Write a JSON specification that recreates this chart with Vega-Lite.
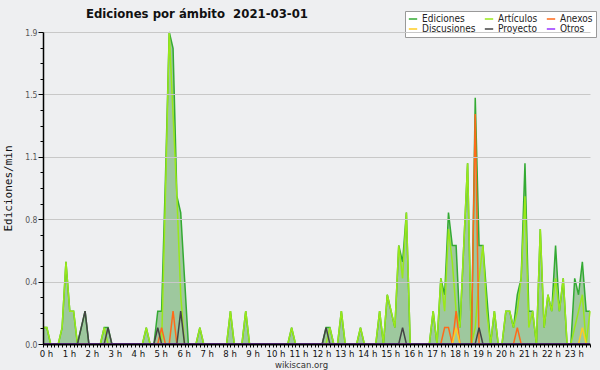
{
"$schema": "https://vega.github.io/schema/vega-lite/v6.json",
"width": 547, "height": 312,
"autosize": {"type": "none"},
"padding": {"left": 43, "top": 32, "right": 10, "bottom": 26},
"background": "#eeeff1",
"config": {"view": {"stroke": null}, "font": "DejaVu Sans Condensed"},
"title": {"text": "Ediciones por ámbito\u00a0 2021-03-01", "anchor": "start", "frame": "group", "dx": 43, "offset": -10, "fontSize": 13, "fontWeight": "bold", "font": "DejaVu Sans Condensed", "color": "#111"},
"data": {"values": [
{"t":0,"Ediciones":0.1,"Artículos":0.1,"Anexos":0,"Discusiones":0,"Proyecto":0,"Otros":0},
{"t":10,"Ediciones":0.1,"Artículos":0.1,"Anexos":0,"Discusiones":0,"Proyecto":0,"Otros":0},
{"t":20,"Ediciones":0,"Artículos":0,"Anexos":0,"Discusiones":0,"Proyecto":0,"Otros":0},
{"t":30,"Ediciones":0,"Artículos":0,"Anexos":0,"Discusiones":0,"Proyecto":0,"Otros":0},
{"t":40,"Ediciones":0,"Artículos":0,"Anexos":0,"Discusiones":0,"Proyecto":0,"Otros":0},
{"t":50,"Ediciones":0.1,"Artículos":0.1,"Anexos":0,"Discusiones":0,"Proyecto":0,"Otros":0},
{"t":60,"Ediciones":0.5,"Artículos":0.5,"Anexos":0,"Discusiones":0,"Proyecto":0,"Otros":0},
{"t":70,"Ediciones":0.2,"Artículos":0.2,"Anexos":0,"Discusiones":0,"Proyecto":0,"Otros":0},
{"t":80,"Ediciones":0.2,"Artículos":0.2,"Anexos":0,"Discusiones":0,"Proyecto":0,"Otros":0},
{"t":90,"Ediciones":0,"Artículos":0,"Anexos":0,"Discusiones":0,"Proyecto":0,"Otros":0},
{"t":100,"Ediciones":0.1,"Artículos":0,"Anexos":0,"Discusiones":0,"Proyecto":0.1,"Otros":0},
{"t":110,"Ediciones":0.2,"Artículos":0,"Anexos":0,"Discusiones":0,"Proyecto":0.2,"Otros":0},
{"t":120,"Ediciones":0,"Artículos":0,"Anexos":0,"Discusiones":0,"Proyecto":0,"Otros":0},
{"t":130,"Ediciones":0,"Artículos":0,"Anexos":0,"Discusiones":0,"Proyecto":0,"Otros":0},
{"t":140,"Ediciones":0,"Artículos":0,"Anexos":0,"Discusiones":0,"Proyecto":0,"Otros":0},
{"t":150,"Ediciones":0,"Artículos":0,"Anexos":0,"Discusiones":0,"Proyecto":0,"Otros":0},
{"t":160,"Ediciones":0.1,"Artículos":0.1,"Anexos":0,"Discusiones":0,"Proyecto":0,"Otros":0},
{"t":170,"Ediciones":0.1,"Artículos":0,"Anexos":0,"Discusiones":0,"Proyecto":0.1,"Otros":0},
{"t":180,"Ediciones":0,"Artículos":0,"Anexos":0,"Discusiones":0,"Proyecto":0,"Otros":0},
{"t":190,"Ediciones":0,"Artículos":0,"Anexos":0,"Discusiones":0,"Proyecto":0,"Otros":0},
{"t":200,"Ediciones":0,"Artículos":0,"Anexos":0,"Discusiones":0,"Proyecto":0,"Otros":0},
{"t":210,"Ediciones":0,"Artículos":0,"Anexos":0,"Discusiones":0,"Proyecto":0,"Otros":0},
{"t":220,"Ediciones":0,"Artículos":0,"Anexos":0,"Discusiones":0,"Proyecto":0,"Otros":0},
{"t":230,"Ediciones":0,"Artículos":0,"Anexos":0,"Discusiones":0,"Proyecto":0,"Otros":0},
{"t":240,"Ediciones":0,"Artículos":0,"Anexos":0,"Discusiones":0,"Proyecto":0,"Otros":0},
{"t":250,"Ediciones":0,"Artículos":0,"Anexos":0,"Discusiones":0,"Proyecto":0,"Otros":0},
{"t":260,"Ediciones":0,"Artículos":0,"Anexos":0,"Discusiones":0,"Proyecto":0,"Otros":0},
{"t":270,"Ediciones":0.1,"Artículos":0.1,"Anexos":0,"Discusiones":0,"Proyecto":0,"Otros":0},
{"t":280,"Ediciones":0,"Artículos":0,"Anexos":0,"Discusiones":0,"Proyecto":0,"Otros":0},
{"t":290,"Ediciones":0,"Artículos":0,"Anexos":0,"Discusiones":0,"Proyecto":0,"Otros":0},
{"t":300,"Ediciones":0.2,"Artículos":0,"Anexos":0,"Discusiones":0,"Proyecto":0.1,"Otros":0},
{"t":310,"Ediciones":0.2,"Artículos":0,"Anexos":0.1,"Discusiones":0,"Proyecto":0,"Otros":0},
{"t":320,"Ediciones":1.0,"Artículos":0.9,"Anexos":0,"Discusiones":0,"Proyecto":0,"Otros":0},
{"t":330,"Ediciones":1.9,"Artículos":1.9,"Anexos":0,"Discusiones":0,"Proyecto":0,"Otros":0},
{"t":340,"Ediciones":1.8,"Artículos":1.4,"Anexos":0.2,"Discusiones":0,"Proyecto":0,"Otros":0},
{"t":350,"Ediciones":0.9,"Artículos":0.9,"Anexos":0,"Discusiones":0,"Proyecto":0,"Otros":0},
{"t":360,"Ediciones":0.8,"Artículos":0.3,"Anexos":0,"Discusiones":0,"Proyecto":0.2,"Otros":0},
{"t":370,"Ediciones":0.4,"Artículos":0,"Anexos":0,"Discusiones":0,"Proyecto":0,"Otros":0},
{"t":380,"Ediciones":0,"Artículos":0,"Anexos":0,"Discusiones":0,"Proyecto":0,"Otros":0},
{"t":390,"Ediciones":0,"Artículos":0,"Anexos":0,"Discusiones":0,"Proyecto":0,"Otros":0},
{"t":400,"Ediciones":0,"Artículos":0,"Anexos":0,"Discusiones":0,"Proyecto":0,"Otros":0},
{"t":410,"Ediciones":0.1,"Artículos":0.1,"Anexos":0,"Discusiones":0,"Proyecto":0,"Otros":0},
{"t":420,"Ediciones":0,"Artículos":0,"Anexos":0,"Discusiones":0,"Proyecto":0,"Otros":0},
{"t":430,"Ediciones":0,"Artículos":0,"Anexos":0,"Discusiones":0,"Proyecto":0,"Otros":0},
{"t":440,"Ediciones":0,"Artículos":0,"Anexos":0,"Discusiones":0,"Proyecto":0,"Otros":0},
{"t":450,"Ediciones":0,"Artículos":0,"Anexos":0,"Discusiones":0,"Proyecto":0,"Otros":0},
{"t":460,"Ediciones":0,"Artículos":0,"Anexos":0,"Discusiones":0,"Proyecto":0,"Otros":0},
{"t":470,"Ediciones":0,"Artículos":0,"Anexos":0,"Discusiones":0,"Proyecto":0,"Otros":0},
{"t":480,"Ediciones":0,"Artículos":0,"Anexos":0,"Discusiones":0,"Proyecto":0,"Otros":0},
{"t":490,"Ediciones":0.2,"Artículos":0.2,"Anexos":0,"Discusiones":0,"Proyecto":0,"Otros":0},
{"t":500,"Ediciones":0,"Artículos":0,"Anexos":0,"Discusiones":0,"Proyecto":0,"Otros":0},
{"t":510,"Ediciones":0,"Artículos":0,"Anexos":0,"Discusiones":0,"Proyecto":0,"Otros":0},
{"t":520,"Ediciones":0,"Artículos":0,"Anexos":0,"Discusiones":0,"Proyecto":0,"Otros":0},
{"t":530,"Ediciones":0.2,"Artículos":0.2,"Anexos":0,"Discusiones":0,"Proyecto":0,"Otros":0},
{"t":540,"Ediciones":0,"Artículos":0,"Anexos":0,"Discusiones":0,"Proyecto":0,"Otros":0},
{"t":550,"Ediciones":0,"Artículos":0,"Anexos":0,"Discusiones":0,"Proyecto":0,"Otros":0},
{"t":560,"Ediciones":0,"Artículos":0,"Anexos":0,"Discusiones":0,"Proyecto":0,"Otros":0},
{"t":570,"Ediciones":0,"Artículos":0,"Anexos":0,"Discusiones":0,"Proyecto":0,"Otros":0},
{"t":580,"Ediciones":0,"Artículos":0,"Anexos":0,"Discusiones":0,"Proyecto":0,"Otros":0},
{"t":590,"Ediciones":0,"Artículos":0,"Anexos":0,"Discusiones":0,"Proyecto":0,"Otros":0},
{"t":600,"Ediciones":0,"Artículos":0,"Anexos":0,"Discusiones":0,"Proyecto":0,"Otros":0},
{"t":610,"Ediciones":0,"Artículos":0,"Anexos":0,"Discusiones":0,"Proyecto":0,"Otros":0},
{"t":620,"Ediciones":0,"Artículos":0,"Anexos":0,"Discusiones":0,"Proyecto":0,"Otros":0},
{"t":630,"Ediciones":0,"Artículos":0,"Anexos":0,"Discusiones":0,"Proyecto":0,"Otros":0},
{"t":640,"Ediciones":0,"Artículos":0,"Anexos":0,"Discusiones":0,"Proyecto":0,"Otros":0},
{"t":650,"Ediciones":0.1,"Artículos":0.1,"Anexos":0,"Discusiones":0,"Proyecto":0,"Otros":0},
{"t":660,"Ediciones":0,"Artículos":0,"Anexos":0,"Discusiones":0,"Proyecto":0,"Otros":0},
{"t":670,"Ediciones":0,"Artículos":0,"Anexos":0,"Discusiones":0,"Proyecto":0,"Otros":0},
{"t":680,"Ediciones":0,"Artículos":0,"Anexos":0,"Discusiones":0,"Proyecto":0,"Otros":0},
{"t":690,"Ediciones":0,"Artículos":0,"Anexos":0,"Discusiones":0,"Proyecto":0,"Otros":0},
{"t":700,"Ediciones":0,"Artículos":0,"Anexos":0,"Discusiones":0,"Proyecto":0,"Otros":0},
{"t":710,"Ediciones":0,"Artículos":0,"Anexos":0,"Discusiones":0,"Proyecto":0,"Otros":0},
{"t":720,"Ediciones":0,"Artículos":0,"Anexos":0,"Discusiones":0,"Proyecto":0,"Otros":0},
{"t":730,"Ediciones":0,"Artículos":0,"Anexos":0,"Discusiones":0,"Proyecto":0,"Otros":0},
{"t":740,"Ediciones":0.1,"Artículos":0,"Anexos":0,"Discusiones":0,"Proyecto":0.1,"Otros":0},
{"t":750,"Ediciones":0.1,"Artículos":0.1,"Anexos":0,"Discusiones":0,"Proyecto":0,"Otros":0},
{"t":760,"Ediciones":0,"Artículos":0,"Anexos":0,"Discusiones":0,"Proyecto":0,"Otros":0},
{"t":770,"Ediciones":0,"Artículos":0,"Anexos":0,"Discusiones":0,"Proyecto":0,"Otros":0},
{"t":780,"Ediciones":0.2,"Artículos":0.2,"Anexos":0,"Discusiones":0,"Proyecto":0,"Otros":0},
{"t":790,"Ediciones":0,"Artículos":0,"Anexos":0,"Discusiones":0,"Proyecto":0,"Otros":0},
{"t":800,"Ediciones":0,"Artículos":0,"Anexos":0,"Discusiones":0,"Proyecto":0,"Otros":0},
{"t":810,"Ediciones":0,"Artículos":0,"Anexos":0,"Discusiones":0,"Proyecto":0,"Otros":0},
{"t":820,"Ediciones":0,"Artículos":0,"Anexos":0,"Discusiones":0,"Proyecto":0,"Otros":0},
{"t":830,"Ediciones":0.1,"Artículos":0.1,"Anexos":0,"Discusiones":0,"Proyecto":0,"Otros":0},
{"t":840,"Ediciones":0,"Artículos":0,"Anexos":0,"Discusiones":0,"Proyecto":0,"Otros":0},
{"t":850,"Ediciones":0,"Artículos":0,"Anexos":0,"Discusiones":0,"Proyecto":0,"Otros":0},
{"t":860,"Ediciones":0,"Artículos":0,"Anexos":0,"Discusiones":0,"Proyecto":0,"Otros":0},
{"t":870,"Ediciones":0,"Artículos":0,"Anexos":0,"Discusiones":0,"Proyecto":0,"Otros":0},
{"t":880,"Ediciones":0.2,"Artículos":0.2,"Anexos":0,"Discusiones":0,"Proyecto":0,"Otros":0},
{"t":890,"Ediciones":0,"Artículos":0,"Anexos":0,"Discusiones":0,"Proyecto":0,"Otros":0},
{"t":900,"Ediciones":0.3,"Artículos":0.3,"Anexos":0,"Discusiones":0,"Proyecto":0,"Otros":0},
{"t":910,"Ediciones":0.2,"Artículos":0.2,"Anexos":0,"Discusiones":0,"Proyecto":0,"Otros":0},
{"t":920,"Ediciones":0.1,"Artículos":0.1,"Anexos":0,"Discusiones":0,"Proyecto":0,"Otros":0},
{"t":930,"Ediciones":0.6,"Artículos":0.6,"Anexos":0,"Discusiones":0,"Proyecto":0,"Otros":0},
{"t":940,"Ediciones":0.5,"Artículos":0.4,"Anexos":0,"Discusiones":0,"Proyecto":0.1,"Otros":0},
{"t":950,"Ediciones":0.8,"Artículos":0.8,"Anexos":0,"Discusiones":0,"Proyecto":0,"Otros":0},
{"t":960,"Ediciones":0,"Artículos":0,"Anexos":0,"Discusiones":0,"Proyecto":0,"Otros":0},
{"t":970,"Ediciones":0,"Artículos":0,"Anexos":0,"Discusiones":0,"Proyecto":0,"Otros":0},
{"t":980,"Ediciones":0,"Artículos":0,"Anexos":0,"Discusiones":0,"Proyecto":0,"Otros":0},
{"t":990,"Ediciones":0,"Artículos":0,"Anexos":0,"Discusiones":0,"Proyecto":0,"Otros":0},
{"t":1000,"Ediciones":0,"Artículos":0,"Anexos":0,"Discusiones":0,"Proyecto":0,"Otros":0},
{"t":1010,"Ediciones":0,"Artículos":0,"Anexos":0,"Discusiones":0,"Proyecto":0,"Otros":0},
{"t":1020,"Ediciones":0.2,"Artículos":0.2,"Anexos":0,"Discusiones":0,"Proyecto":0,"Otros":0},
{"t":1030,"Ediciones":0,"Artículos":0,"Anexos":0,"Discusiones":0,"Proyecto":0,"Otros":0},
{"t":1040,"Ediciones":0.4,"Artículos":0.4,"Anexos":0,"Discusiones":0,"Proyecto":0,"Otros":0},
{"t":1050,"Ediciones":0.3,"Artículos":0.2,"Anexos":0.1,"Discusiones":0,"Proyecto":0,"Otros":0},
{"t":1060,"Ediciones":0.8,"Artículos":0.7,"Anexos":0.1,"Discusiones":0,"Proyecto":0,"Otros":0},
{"t":1070,"Ediciones":0.6,"Artículos":0.5,"Anexos":0,"Discusiones":0,"Proyecto":0,"Otros":0},
{"t":1080,"Ediciones":0.6,"Artículos":0.2,"Anexos":0.2,"Discusiones":0.1,"Proyecto":0,"Otros":0},
{"t":1090,"Ediciones":0.1,"Artículos":0.1,"Anexos":0,"Discusiones":0,"Proyecto":0,"Otros":0},
{"t":1100,"Ediciones":0.6,"Artículos":0.6,"Anexos":0,"Discusiones":0,"Proyecto":0,"Otros":0},
{"t":1110,"Ediciones":1.1,"Artículos":1.1,"Anexos":0,"Discusiones":0,"Proyecto":0,"Otros":0},
{"t":1120,"Ediciones":0,"Artículos":0,"Anexos":0,"Discusiones":0,"Proyecto":0,"Otros":0},
{"t":1130,"Ediciones":1.5,"Artículos":0.1,"Anexos":1.4,"Discusiones":0,"Proyecto":0,"Otros":0},
{"t":1140,"Ediciones":0.6,"Artículos":0.4,"Anexos":0,"Discusiones":0,"Proyecto":0.1,"Otros":0},
{"t":1150,"Ediciones":0.6,"Artículos":0.6,"Anexos":0,"Discusiones":0,"Proyecto":0,"Otros":0},
{"t":1160,"Ediciones":0.3,"Artículos":0.2,"Anexos":0,"Discusiones":0,"Proyecto":0,"Otros":0},
{"t":1170,"Ediciones":0,"Artículos":0,"Anexos":0,"Discusiones":0,"Proyecto":0,"Otros":0},
{"t":1180,"Ediciones":0.2,"Artículos":0.2,"Anexos":0,"Discusiones":0,"Proyecto":0,"Otros":0},
{"t":1190,"Ediciones":0,"Artículos":0,"Anexos":0,"Discusiones":0,"Proyecto":0,"Otros":0},
{"t":1200,"Ediciones":0,"Artículos":0,"Anexos":0,"Discusiones":0,"Proyecto":0,"Otros":0},
{"t":1210,"Ediciones":0.2,"Artículos":0.2,"Anexos":0,"Discusiones":0,"Proyecto":0,"Otros":0},
{"t":1220,"Ediciones":0.2,"Artículos":0.2,"Anexos":0,"Discusiones":0,"Proyecto":0,"Otros":0},
{"t":1230,"Ediciones":0.1,"Artículos":0.1,"Anexos":0,"Discusiones":0,"Proyecto":0,"Otros":0},
{"t":1240,"Ediciones":0.3,"Artículos":0.2,"Anexos":0.1,"Discusiones":0,"Proyecto":0,"Otros":0},
{"t":1250,"Ediciones":0.4,"Artículos":0.4,"Anexos":0,"Discusiones":0,"Proyecto":0,"Otros":0},
{"t":1260,"Ediciones":1.1,"Artículos":0.9,"Anexos":0,"Discusiones":0,"Proyecto":0,"Otros":0},
{"t":1270,"Ediciones":0.2,"Artículos":0.1,"Anexos":0,"Discusiones":0,"Proyecto":0,"Otros":0},
{"t":1280,"Ediciones":0.2,"Artículos":0.2,"Anexos":0,"Discusiones":0,"Proyecto":0,"Otros":0},
{"t":1290,"Ediciones":0,"Artículos":0,"Anexos":0,"Discusiones":0,"Proyecto":0,"Otros":0},
{"t":1300,"Ediciones":0.7,"Artículos":0.7,"Anexos":0,"Discusiones":0,"Proyecto":0,"Otros":0},
{"t":1310,"Ediciones":0.1,"Artículos":0.1,"Anexos":0,"Discusiones":0,"Proyecto":0,"Otros":0},
{"t":1320,"Ediciones":0.3,"Artículos":0.3,"Anexos":0,"Discusiones":0,"Proyecto":0,"Otros":0},
{"t":1330,"Ediciones":0.2,"Artículos":0.2,"Anexos":0,"Discusiones":0,"Proyecto":0,"Otros":0},
{"t":1340,"Ediciones":0.6,"Artículos":0.4,"Anexos":0,"Discusiones":0,"Proyecto":0,"Otros":0},
{"t":1350,"Ediciones":0.2,"Artículos":0.2,"Anexos":0,"Discusiones":0,"Proyecto":0,"Otros":0},
{"t":1360,"Ediciones":0.4,"Artículos":0.4,"Anexos":0,"Discusiones":0,"Proyecto":0,"Otros":0},
{"t":1370,"Ediciones":0,"Artículos":0,"Anexos":0,"Discusiones":0,"Proyecto":0,"Otros":0},
{"t":1380,"Ediciones":0,"Artículos":0,"Anexos":0,"Discusiones":0,"Proyecto":0,"Otros":0},
{"t":1390,"Ediciones":0.4,"Artículos":0.1,"Anexos":0,"Discusiones":0,"Proyecto":0,"Otros":0},
{"t":1400,"Ediciones":0.3,"Artículos":0.2,"Anexos":0,"Discusiones":0,"Proyecto":0,"Otros":0},
{"t":1410,"Ediciones":0.5,"Artículos":0.3,"Anexos":0,"Discusiones":0.1,"Proyecto":0,"Otros":0},
{"t":1420,"Ediciones":0.2,"Artículos":0,"Anexos":0,"Discusiones":0,"Proyecto":0,"Otros":0},
{"t":1430,"Ediciones":0.2,"Artículos":0.2,"Anexos":0,"Discusiones":0,"Proyecto":0,"Otros":0}
]},
"encoding": {
  "x": {"field": "t", "type": "quantitative", "scale": {"domain": [0, 1430], "nice": false, "zero": false},
    "axis": {"values": [0,10,20,30,40,50,60,70,80,90,100,110,120,130,140,150,160,170,180,190,200,210,220,230,240,250,260,270,280,290,300,310,320,330,340,350,360,370,380,390,400,410,420,430,440,450,460,470,480,490,500,510,520,530,540,550,560,570,580,590,600,610,620,630,640,650,660,670,680,690,700,710,720,730,740,750,760,770,780,790,800,810,820,830,840,850,860,870,880,890,900,910,920,930,940,950,960,970,980,990,1000,1010,1020,1030,1040,1050,1060,1070,1080,1090,1100,1110,1120,1130,1140,1150,1160,1170,1180,1190,1200,1210,1220,1230,1240,1250,1260,1270,1280,1290,1300,1310,1320,1330,1340,1350,1360,1370,1380,1390,1400,1410,1420,1430],
      "labelExpr": "datum.value % 60 == 0 ? (datum.value / 60) + ' h' : ''",
      "labelOverlap": false, "labelFlush": false, "labelBound": false,
      "labelFontSize": 9.5, "labelColor": "#111", "labelOffset": 3, "labelPadding": 1,
      "tickSize": 3, "tickColor": "#000", "domainColor": "#000", "domainWidth": 2, "grid": false,
      "title": "wikiscan.org", "titleFontSize": 9.5, "titleFontWeight": "normal", "titleColor": "#333", "titlePadding": 2, "titleX": 258, "zindex": 1}},
  "y": {"field": "v", "type": "quantitative", "scale": {"domain": [0, 1.9], "nice": false},
    "axis": {"values": [0,0.095,0.19,0.285,0.38,0.475,0.57,0.665,0.76,0.855,0.95,1.045,1.14,1.235,1.33,1.425,1.52,1.615,1.71,1.805,1.9],
      "labelExpr": "indexof([0,0.38,0.76,1.14,1.52,1.9], datum.value) >= 0 ? format(datum.value, '.1f') : ''",
      "labelOverlap": false, "labelFontSize": 8.5, "labelColor": "#555", "labelPadding": 1,
      "tickSize": {"condition": {"test": "indexof([0,0.38,0.76,1.14,1.52,1.9], datum.value) >= 0", "value": 5}, "value": 3},
      "tickColor": "#000", "domainColor": "#000", "domainWidth": 1.5,
      "grid": true, "gridColor": "#c8c8c8",
      "gridOpacity": {"condition": {"test": "indexof([0.38,0.76,1.14,1.52,1.9], datum.value) >= 0", "value": 1}, "value": 0},
      "title": "Ediciones/min", "titleFont": "DejaVu Sans Mono", "titleFontSize": 11, "titleFontWeight": "normal", "titleColor": "#111", "titlePadding": 11, "zindex": 1}}
},
"layer": [
  {"transform": [{"fold": ["Ediciones"], "as": ["serie", "v"]}],
   "mark": {"type": "area", "color": "#9ec89e", "opacity": 1}},
  {"transform": [{"fold": ["Ediciones", "Artículos", "Anexos", "Discusiones", "Proyecto", "Otros"], "as": ["serie", "v"]}],
   "mark": {"type": "line", "strokeWidth": 1.5},
   "encoding": {"color": {"field": "serie", "type": "nominal",
      "scale": {"domain": ["Ediciones", "Artículos", "Anexos", "Discusiones", "Proyecto", "Otros"], "range": ["#33aa33", "#99e81a", "#ff6a1a", "#ffcc22", "#444444", "#9933ff"]},
      "legend": {"orient": "none", "legendX": 362, "legendY": -21, "columns": 3, "direction": "horizontal", "title": null, "fillColor": "#ffffff", "strokeColor": "#999999", "padding": 3, "symbolType": "stroke", "symbolSize": 70, "symbolStrokeWidth": 1.5, "labelFontSize": 10, "labelFont": "DejaVu Sans Condensed", "labelColor": "#222", "columnPadding": 5, "rowPadding": 0, "labelOffset": 4}}}},
  {"data": {"values": [{"nota": "CC BY-SA 3.0"}]},
   "mark": {"type": "text", "align": "right", "baseline": "middle", "fontSize": 7.5, "font": "DejaVu Sans", "color": "#333"},
   "encoding": {"x": {"datum": 1430, "type": "quantitative"}, "y": {"datum": -0.11, "type": "quantitative"}, "text": {"field": "nota"}}}
]
}
